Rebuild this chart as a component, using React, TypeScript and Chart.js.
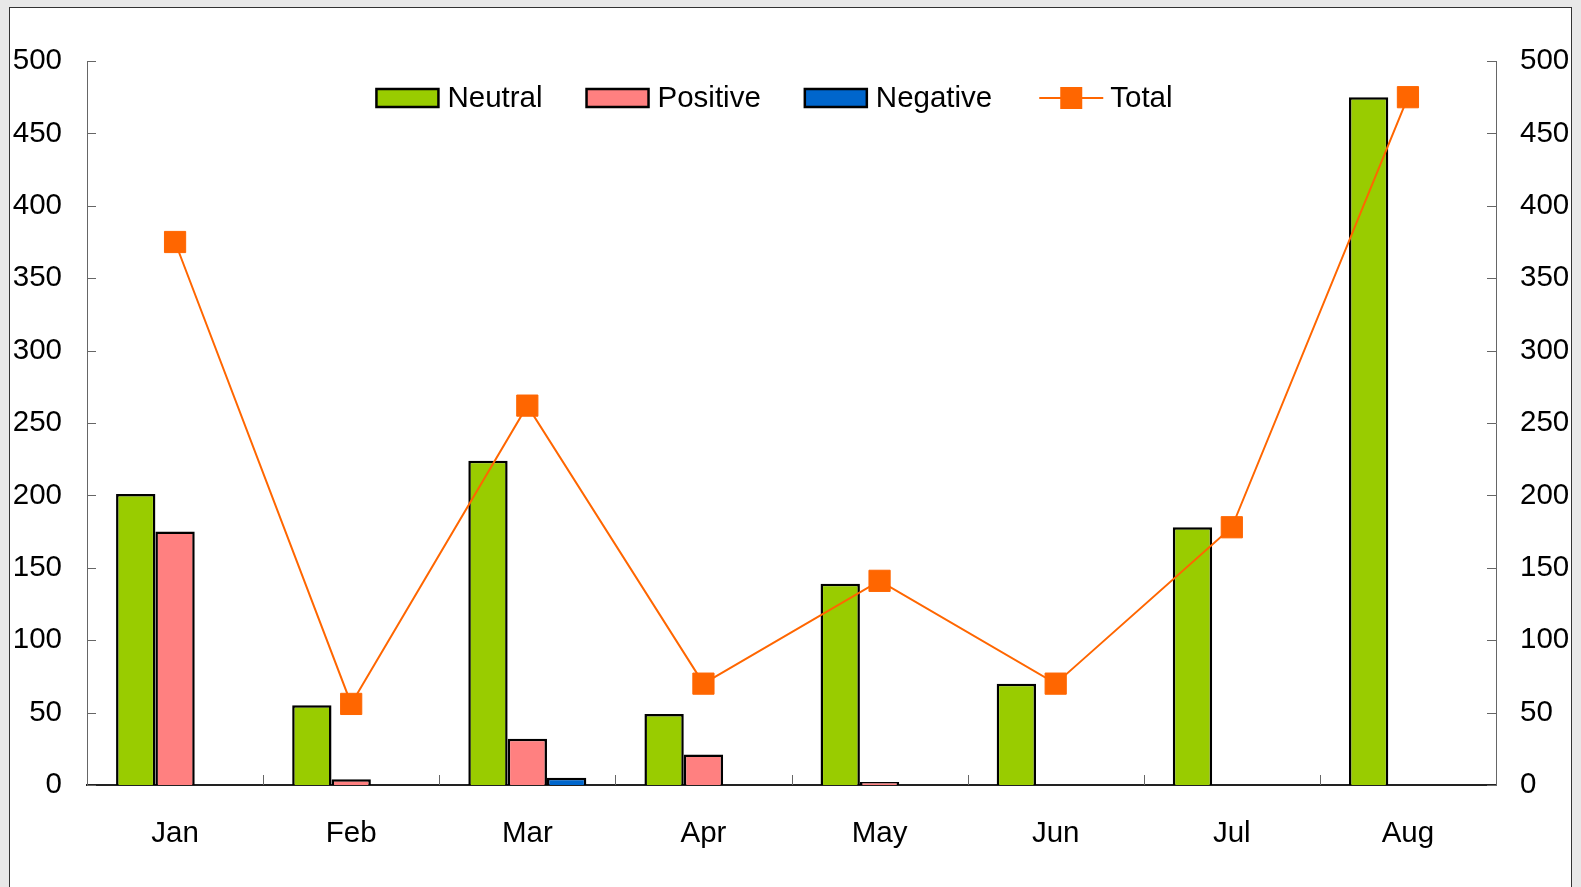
import React, { useEffect, useRef } from "react";
import { Chart, registerables } from "chart.js";

Chart.register(...registerables);

const categories = ["Jan", "Feb", "Mar", "Apr", "May", "Jun", "Jul", "Aug"];
const neutralValues = [201, 55, 224, 49, 139, 70, 178, 475];
const positiveValues = [175, 4, 32, 21, 2, null, null, null];
const negativeValues = [null, null, 5, null, null, null, null, null];
const totalValues = [375, 56, 262, 70, 141, 70, 178, 475];
const axisMin = 0;
const axisMax = 500;
const axisStep = 50;

const FONT = '"Liberation Sans", Arial, sans-serif';
const FONT_SIZE = 29.5;

const legendItems = [
  { label: "Neutral", type: "box", fill: "#99CC00" },
  { label: "Positive", type: "box", fill: "#FF8080" },
  { label: "Negative", type: "box", fill: "#0066CC" },
  { label: "Total", type: "line", fill: "#FF6600" },
];

const decorPlugin = {
  id: "decor",
  afterDatasetsDraw(chart: any) {
    const { ctx, chartArea, scales } = chart;
    const x = scales.x;
    const y = scales.y;
    const y2 = scales.y2;
    ctx.save();
    ctx.strokeStyle = "#666";
    ctx.lineWidth = 1;
    y.ticks.forEach((t: any) => {
      const py = Math.round(y.getPixelForValue(t.value)) + 0.5;
      ctx.beginPath();
      ctx.moveTo(chartArea.left, py);
      ctx.lineTo(chartArea.left + 9, py);
      ctx.stroke();
    });
    y2.ticks.forEach((t: any) => {
      const py = Math.round(y2.getPixelForValue(t.value)) + 0.5;
      ctx.beginPath();
      ctx.moveTo(chartArea.right - 9, py);
      ctx.lineTo(chartArea.right, py);
      ctx.stroke();
    });
    const n = categories.length;
    for (let i = 1; i < n; i++) {
      const px = Math.round(x.left + (i * x.width) / n) + 0.5;
      ctx.beginPath();
      ctx.moveTo(px, chartArea.bottom - 10);
      ctx.lineTo(px, chartArea.bottom);
      ctx.stroke();
    }
    ctx.restore();
  },
  afterDraw(chart: any) {
    const { ctx, chartArea } = chart;
    ctx.save();
    ctx.font = `${FONT_SIZE}px ${FONT}`;
    ctx.textBaseline = "middle";
    ctx.textAlign = "left";
    const boxW = 62;
    const boxH = 18;
    const lineW = 64;
    const gapBoxText = 9;
    const gapLineText = 7;
    const itemGaps = [44, 44, 47];
    const widths = legendItems.map((it) => {
      const tw = ctx.measureText(it.label).width;
      return (it.type === "box" ? boxW + gapBoxText : lineW + gapLineText) + tw;
    });
    const total = widths.reduce((a, b) => a + b, 0) + itemGaps.reduce((a, b) => a + b, 0);
    let cx = (chartArea.left + chartArea.right) / 2 - 17 - total / 2;
    const cy = chartArea.top + 37;
    legendItems.forEach((it, i) => {
      if (it.type === "box") {
        ctx.fillStyle = it.fill;
        ctx.fillRect(cx, cy - boxH / 2, boxW, boxH);
        ctx.strokeStyle = "#000";
        ctx.lineWidth = 2.5;
        ctx.strokeRect(cx, cy - boxH / 2, boxW, boxH);
        ctx.fillStyle = "#000";
        ctx.fillText(it.label, cx + boxW + gapBoxText, cy + 1);
      } else {
        ctx.strokeStyle = it.fill;
        ctx.lineWidth = 2;
        ctx.beginPath();
        ctx.moveTo(cx, cy);
        ctx.lineTo(cx + lineW, cy);
        ctx.stroke();
        ctx.fillStyle = it.fill;
        ctx.fillRect(cx + lineW / 2 - 11, cy - 11, 22, 22);
        ctx.fillStyle = "#000";
        ctx.fillText(it.label, cx + lineW + gapLineText, cy + 1);
      }
      cx += widths[i] + (itemGaps[i] || 0);
    });
    ctx.restore();
  },
};

export default function App() {
  const canvasRef = useRef<HTMLCanvasElement | null>(null);

  useEffect(() => {
    if (!canvasRef.current) return;
    const tickFont = { family: FONT, size: FONT_SIZE };
    const noGrid = { display: false, drawTicks: false, tickLength: 0 };
    const chart = new Chart(canvasRef.current, {
      type: "bar",
      data: {
        labels: categories,
        datasets: [
          {
            type: "line",
            label: "Total",
            data: totalValues,
            yAxisID: "y2",
            borderColor: "#FF6600",
            backgroundColor: "#FF6600",
            borderWidth: 2,
            pointStyle: "rect",
            pointRadius: 15,
            pointBorderWidth: 1,
            pointBorderColor: "#FF6600",
            pointBackgroundColor: "#FF6600",
            tension: 0,
            order: 0,
          } as any,
          {
            label: "Neutral",
            data: neutralValues,
            backgroundColor: "#99CC00",
            borderColor: "#000",
            borderWidth: 2.5,
            yAxisID: "y",
            order: 1,
          },
          {
            label: "Positive",
            data: positiveValues,
            backgroundColor: "#FF8080",
            borderColor: "#000",
            borderWidth: 2.5,
            yAxisID: "y",
            order: 1,
          },
          {
            label: "Negative",
            data: negativeValues,
            backgroundColor: "#0066CC",
            borderColor: "#000",
            borderWidth: 2.5,
            yAxisID: "y",
            order: 1,
          },
        ],
      },
      options: {
        responsive: false,
        animation: false,
        categoryPercentage: 0.67,
        barPercentage: 1,
        layout: { padding: { left: 0, right: 0, top: 53, bottom: 0 } },
        plugins: {
          legend: { display: false },
          tooltip: { enabled: false },
        },
        scales: {
          x: {
            grid: noGrid,
            border: { display: true, color: "#222", width: 2 },
            ticks: { font: tickFont, color: "#000", padding: 31.5, maxRotation: 0 },
            afterFit: (s: any) => {
              s.height = 102;
            },
          },
          y: {
            position: "left",
            min: axisMin,
            max: axisMax,
            grid: noGrid,
            border: { display: true, color: "#666", width: 1 },
            ticks: { font: tickFont, color: "#000", padding: 25, stepSize: axisStep },
            afterFit: (s: any) => {
              s.width = 77;
            },
          },
          y2: {
            position: "right",
            min: axisMin,
            max: axisMax,
            grid: noGrid,
            border: { display: true, color: "#666", width: 1 },
            ticks: { font: tickFont, color: "#000", padding: 24, stepSize: axisStep },
            afterFit: (s: any) => {
              s.width = 75;
            },
          },
        },
      } as any,
      plugins: [decorPlugin],
    });
    return () => chart.destroy();
  }, []);

  return (
    <div style={{ position: "fixed", inset: 0, background: "#e8e8e8", overflow: "hidden" }}>
      <div
        style={{
          position: "absolute",
          left: 9,
          top: 7,
          width: 1563,
          height: 900,
          boxSizing: "border-box",
          border: "1px solid #333",
          background: "#fff",
        }}
      >
        <canvas ref={canvasRef} width={1561} height={879} style={{ display: "block" }} />
      </div>
    </div>
  );
}
